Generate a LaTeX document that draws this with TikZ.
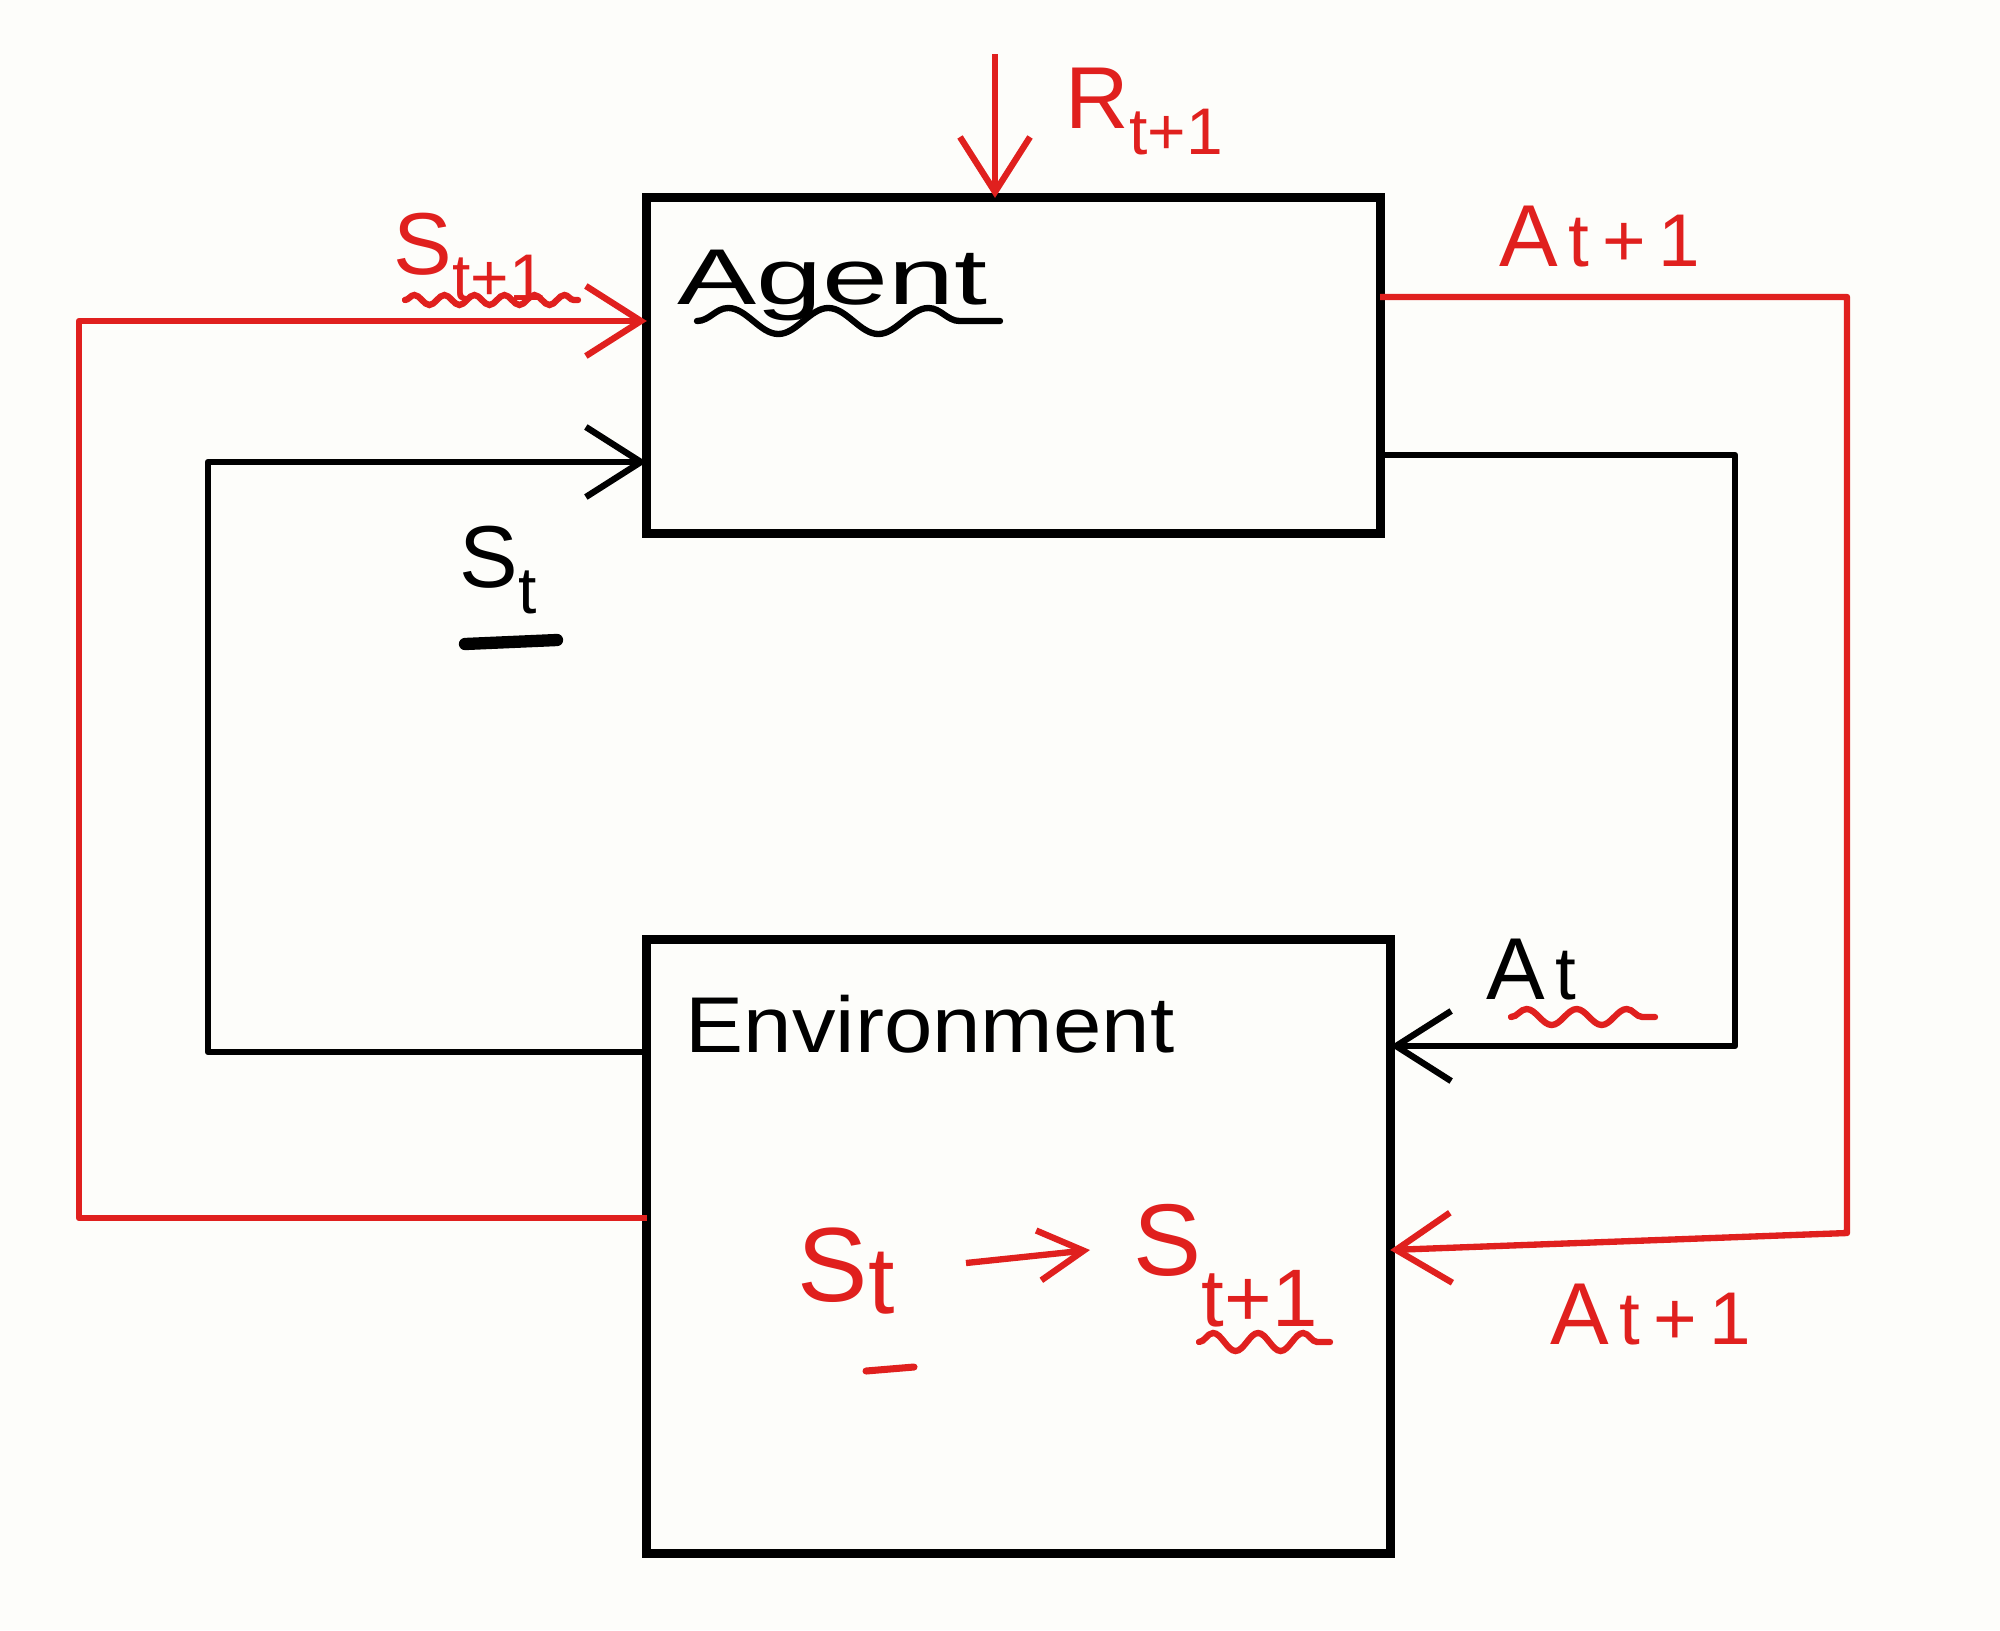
\documentclass[tikz,border=0pt]{standalone}
\usepackage{fontspec}
\setmainfont{Liberation Sans}
\usetikzlibrary{arrows.meta,decorations.pathmorphing,calc}
\definecolor{pen}{HTML}{E0201E}
\definecolor{paper}{HTML}{FDFDFA}
\newcommand\ssub[2]{#1\raisebox{-0.3em}{\scalebox{0.75}{#2}}}
\newcommand\aflat[2]{#1\hspace{0.12em}\scalebox{0.85}{#2}}
\begin{document}
\begin{tikzpicture}[x=0.01cm,y=-0.01cm,
  box/.style={draw=black, line width=2.6pt, inner sep=0pt, outer sep=0pt},
  conn/.style={line width=1.8pt, line join=round, -{Straight Barb[length=5.5mm,width=7mm]}},
  lab/.style={inner sep=0pt, anchor=base west, font=\fontsize{25}{30}\selectfont},
  wavy/.style={line width=1.8pt, line cap=round, decorate, decoration={snake, segment length=0.3cm, amplitude=0.5mm}}]
\fill[paper] (0,0) rectangle (2000,1630);
\useasboundingbox (0,0) rectangle (2000,1630);

% boxes
\node[box, minimum width=7.33cm, minimum height=3.35cm] (agent) at (1013.5,365.5) {};
\node[box, minimum width=7.43cm, minimum height=6.13cm] (env) at (1018.5,1246.5) {};

% texts
\node[lab, font=\fontsize{22.5}{27}\selectfont, xscale=1.5] (agenttxt) at (676,304) {Agent};
\node[lab, font=\fontsize{22.5}{27}\selectfont, xscale=1.1] (envtxt) at (685,1052) {Environment};
\node[lab, pen] (rlab) at (1065,128) {\ssub{R}{t+1}};
\node[lab, pen] (stop) at (393,274) {\ssub{S}{t+1}};
\node[lab, pen] (atop) at (1499,266) {\aflat{A}{t\,+\,1}};
\node[lab] (sblack) at (459,587) {\ssub{S}{t}};
\node[lab] (ablack) at (1486,999) {\aflat{A}{t}};
\node[lab, pen, font=\fontsize{30}{36}\selectfont] (sred) at (797,1301) {S\raisebox{-0.12em}{\scalebox{0.9}{t}}};
\node[lab, pen, font=\fontsize{29}{35}\selectfont] (snext) at (1133,1275) {S\raisebox{-0.5em}{\scalebox{0.8}{t+1}}};
\node[lab, pen] (abot) at (1550,1344) {\aflat{A}{t\,+\,1}};

% underlines
\draw[pen, wavy] (405,300) -- (578,300);
\draw[wavy, decoration={snake, segment length=1cm, amplitude=1.3mm}] (697,321) -- (1000,321);
\draw[pen, wavy, decoration={snake, segment length=0.5cm, amplitude=0.8mm}] (1511,1017) -- (1655,1017);
\draw[pen, wavy, decoration={snake, segment length=0.45cm, amplitude=0.9mm}] (1199,1342) -- (1330,1342);
\draw[line width=3.5pt, line cap=round] (465,644) -- (557,640);
\draw[pen, line width=2pt, line cap=round] (866,1371) -- (914,1367);

% reward arrow
\coordinate (rstart) at (995,54);
\draw[pen, conn] (rstart) -- (agent.north -| rstart);

% black loops
\draw[conn] (env.west |- 0,1052) -- (208,1052) -- (208,462) -- (agent.west |- 0,462);
\draw[conn] (agent.east |- 0,455) -- (1735,455) -- (1735,1046) -- (env.east |- 0,1046);

% red loops
\draw[pen, conn] (env.west |- 0,1218) -- (79,1218) -- (79,321) -- (agent.west |- 0,321);
\draw[pen, conn] (agent.east |- 0,297) -- (1847,297) -- (1847,1233) -- (env.east |- 0,1250);

% transition arrow inside environment
\coordinate (ta) at (966,1263);
\coordinate (tb) at (1090,1250);
\draw[pen, conn, -{Straight Barb[length=4.5mm,width=5mm]}] (ta) -- (tb);
\end{tikzpicture}
\end{document}
